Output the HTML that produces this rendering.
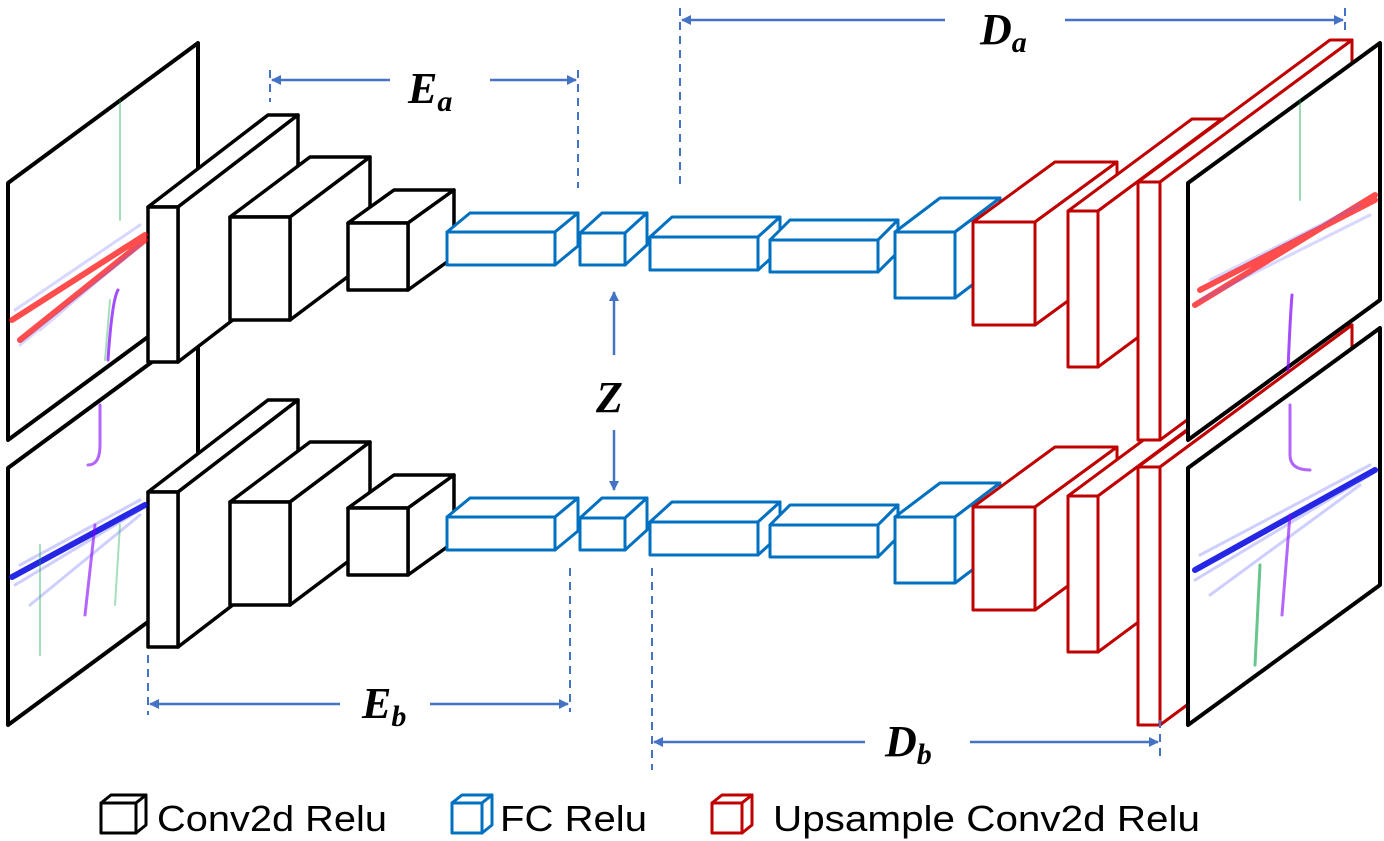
<!DOCTYPE html>
<html><head><meta charset="utf-8"><style>
html,body{margin:0;padding:0;background:#fff;}
svg{display:block;}
.k polygon,.k rect{fill:#fff;stroke:#000;stroke-width:3.5;stroke-linejoin:round;}
.b polygon,.b rect{fill:#fff;stroke:#0070c0;stroke-width:3;stroke-linejoin:round;}
.r polygon,.r rect{fill:#fff;stroke:#c00000;stroke-width:3;stroke-linejoin:round;}
.img{fill:#fff;stroke:#000;stroke-width:4;stroke-linejoin:round;}
.dim{stroke:#4472c4;stroke-width:2.5;fill:none;}
.dash{stroke:#4472c4;stroke-width:2;stroke-dasharray:8 6;fill:none;}
.lab{font-family:"Liberation Serif",serif;font-weight:bold;font-style:italic;font-size:44px;fill:#000;}
.sub{font-size:30px;}
.leg{font-family:"Liberation Sans",sans-serif;font-size:36px;fill:#000;}
</style></head><body>
<svg width="1384" height="841" viewBox="0 0 1384 841" xmlns="http://www.w3.org/2000/svg">
<defs>
<marker id="ah" markerWidth="10" markerHeight="10" refX="9" refY="5" orient="auto" markerUnits="userSpaceOnUse">
<path d="M0,0 L10,5 L0,10 z" fill="#4472c4"/></marker>
<g id="row">
  <polygon class="img" points="8,183 198,43 198,300 8,440"/>
  <g class="k">
    <polygon points="148,207 268,115 298,115 178,207"/><polygon points="178,207 298,115 298,270 178,362"/><rect x="148" y="207" width="30" height="155"/>
    <polygon points="230,217 310,157 370,157 290,217"/><polygon points="290,217 370,157 370,260 290,320"/><rect x="230" y="217" width="60" height="103"/>
    <polygon points="348,223 394,190 454,190 408,223"/><polygon points="408,223 454,190 454,257 408,290"/><rect x="348" y="223" width="60" height="67"/>
  </g>
  <g class="b">
    <polygon points="447,232 470,213 578,213 555,232"/><polygon points="555,232 578,213 578,246 555,265"/><rect x="447" y="232" width="108" height="33"/>
    <polygon points="580,233 602,213 647,213 625,233"/><polygon points="625,233 647,213 647,245 625,265"/><rect x="580" y="233" width="45" height="32"/>
    <polygon points="650,237 672,217 780,217 758,237"/><polygon points="758,237 780,217 780,250 758,270"/><rect x="650" y="237" width="108" height="33"/>
    <polygon points="770,240 790,220 898,220 878,240"/><polygon points="878,240 898,220 898,252 878,272"/><rect x="770" y="240" width="108" height="32"/>
    <polygon points="895,232 940,198 1000,198 955,232"/><polygon points="955,232 1000,198 1000,264 955,298"/><rect x="895" y="232" width="60" height="66"/>
  </g>
  <g class="r">
    <polygon points="973,222 1055,162 1117,162 1035,222"/><polygon points="1035,222 1117,162 1117,265 1035,325"/><rect x="973" y="222" width="62" height="103"/>
    <polygon points="1068,211 1192,119 1222,119 1098,211"/><polygon points="1098,211 1222,119 1222,275 1098,367"/><rect x="1068" y="211" width="30" height="156"/>
    <polygon points="1138,182 1330,40 1352,40 1160,182"/><polygon points="1160,182 1352,40 1352,298 1160,440"/><rect x="1138" y="182" width="22" height="258"/>
  </g>
  <polygon class="img" points="1188,183 1380,43 1380,300 1188,440"/>
</g>
</defs>

<!-- lower row -->
<g transform="translate(0,285)">
  <use href="#row"/>
  <g fill="none" stroke-linecap="round">
    <path d="M145,220 L12,292" stroke="#0000e0" stroke-width="6" opacity="0.85"/>
    <path d="M140,225 L15,300 M140,215 L20,280 M140,230 L30,320" stroke="#4040ff" stroke-width="3" opacity="0.25"/>
    <path d="M100,120 L100,160 Q100,180 88,180 M95,240 L85,330" stroke="#8000ff" stroke-width="3" opacity="0.6"/>
    <path d="M40,260 L40,370 M120,240 L115,320" stroke="#00a040" stroke-width="2" opacity="0.35"/>
    <path d="M1375,185 L1195,285" stroke="#0000e0" stroke-width="6" opacity="0.85"/>
    <path d="M1370,190 L1195,295 M1370,180 L1200,270 M1360,200 L1210,310" stroke="#4040ff" stroke-width="3" opacity="0.25"/>
    <path d="M1290,120 L1290,170 Q1290,185 1310,185 M1290,230 L1282,330" stroke="#8000ff" stroke-width="3" opacity="0.6"/>
    <path d="M1260,280 L1255,380" stroke="#00a040" stroke-width="3" opacity="0.6"/>
  </g>
</g>
<!-- upper row -->
<use href="#row"/>
<g fill="none" stroke-linecap="round">
  <path d="M145,235 L12,320 M145,240 L20,340" stroke="#ff0000" stroke-width="6" opacity="0.7"/>
  <path d="M140,225 L15,310 M135,250 L20,345 M140,245 L40,330" stroke="#6060ff" stroke-width="3" opacity="0.25"/>
  <path d="M120,100 L120,220 M110,300 L105,360" stroke="#00a040" stroke-width="2" opacity="0.35"/>
  <path d="M118,290 Q112,300 108,360" stroke="#8000ff" stroke-width="3" opacity="0.7"/>
  <path d="M1375,200 L1200,290 M1375,195 L1195,305" stroke="#ff0000" stroke-width="6" opacity="0.7"/>
  <path d="M1370,215 L1200,300 M1360,205 L1210,280" stroke="#6060ff" stroke-width="3" opacity="0.25"/>
  <path d="M1300,100 L1300,200" stroke="#00a040" stroke-width="2" opacity="0.4"/>
  <path d="M1292,295 Q1290,320 1288,370" stroke="#8000ff" stroke-width="3" opacity="0.7"/>
</g>

<!-- dimensions -->
<line class="dash" x1="270" y1="70" x2="270" y2="102"/>
<line class="dash" x1="578" y1="70" x2="578" y2="188"/>
<line class="dim" x1="390" y1="80" x2="272" y2="80" marker-end="url(#ah)"/>
<line class="dim" x1="490" y1="80" x2="576" y2="80" marker-end="url(#ah)"/>
<text class="lab" x="408" y="103">E<tspan class="sub" dy="8">a</tspan></text>

<line class="dash" x1="680" y1="8" x2="680" y2="188"/>
<line class="dash" x1="1345" y1="8" x2="1345" y2="32"/>
<line class="dim" x1="945" y1="20" x2="682" y2="20" marker-end="url(#ah)"/>
<line class="dim" x1="1065" y1="20" x2="1343" y2="20" marker-end="url(#ah)"/>
<text class="lab" x="980" y="44">D<tspan class="sub" dy="8">a</tspan></text>

<line class="dash" x1="148" y1="655" x2="148" y2="715"/>
<line class="dash" x1="570" y1="568" x2="570" y2="712"/>
<line class="dim" x1="340" y1="704" x2="150" y2="704" marker-end="url(#ah)"/>
<line class="dim" x1="430" y1="704" x2="568" y2="704" marker-end="url(#ah)"/>
<text class="lab" x="362" y="718">E<tspan class="sub" dy="8">b</tspan></text>

<line class="dash" x1="652" y1="568" x2="652" y2="770"/>
<line class="dash" x1="1160" y1="720" x2="1160" y2="758"/>
<line class="dim" x1="865" y1="742" x2="654" y2="742" marker-end="url(#ah)"/>
<line class="dim" x1="970" y1="742" x2="1158" y2="742" marker-end="url(#ah)"/>
<text class="lab" x="885" y="756">D<tspan class="sub" dy="8">b</tspan></text>

<line class="dim" x1="614" y1="355" x2="614" y2="292" marker-end="url(#ah)"/>
<line class="dim" x1="614" y1="430" x2="614" y2="490" marker-end="url(#ah)"/>
<text class="lab" x="596" y="412">Z</text>

<!-- legend -->
<g fill="#fff" stroke-width="3" stroke-linejoin="round">
  <g stroke="#000"><polygon points="101,803 111,795 146,795 136,803"/><polygon points="136,803 146,795 146,825 136,833"/><rect x="101" y="803" width="35" height="30"/></g>
  <g stroke="#0070c0"><polygon points="452,803 462,795 492,795 482,803"/><polygon points="482,803 492,795 492,825 482,833"/><rect x="452" y="803" width="30" height="30"/></g>
  <g stroke="#c00000"><polygon points="712,803 722,795 752,795 742,803"/><polygon points="742,803 752,795 752,825 742,833"/><rect x="712" y="803" width="30" height="30"/></g>
</g>
<text class="leg" x="157" y="831" textLength="230" lengthAdjust="spacingAndGlyphs">Conv2d Relu</text>
<text class="leg" x="500" y="831" textLength="147" lengthAdjust="spacingAndGlyphs">FC Relu</text>
<text class="leg" x="773" y="831" textLength="427" lengthAdjust="spacingAndGlyphs">Upsample Conv2d Relu</text>
</svg>
</body></html>
